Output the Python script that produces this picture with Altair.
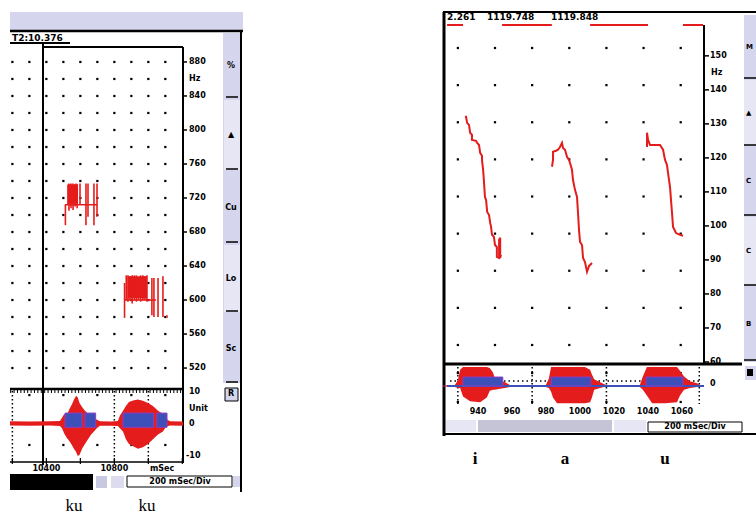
import altair as alt
import pandas as pd

# ---------------------------------------------------------------- data
# LEFT PANEL  ("ku ku"): time in ms, pitch in Hz, amplitude in units
L_HZ_TICKS = [880, 840, 800, 760, 720, 680, 640, 600, 560, 520]
L_GRID_T = [10200, 10300, 10400, 10500, 10600, 10700, 10800, 10900, 11000, 11100]
L_GRID_HZ = [880, 860, 840, 820, 800, 780, 760, 740, 720, 700,
             680, 660, 640, 620, 600, 580, 560, 540, 520]
L_TIME_LABELS = [10400, 10800]

# pitch track segments of the first "ku" (time, low Hz, high Hz)
K1_T = [10512, 10527, 10533, 10539, 10545, 10551, 10557, 10563, 10569, 10575,
        10581, 10598, 10633, 10645, 10680, 10698]
K1_LO = [688, 712, 705, 712, 708, 712, 706, 712, 710, 712, 708, 712, 688, 698, 688, 698]
K1_HI = [712, 736, 737, 736, 737, 735, 737, 736, 736, 737, 736, 737, 737, 737, 737, 737]
# pitch track segments of the second "ku"
K2_T = [10860, 10870, 10880, 10892, 10905, 10918, 10930, 10942, 10955, 10968,
        10980, 10992, 11021, 11033, 11057, 11086, 11110]
K2_LO = [579, 600, 598, 600, 596, 600, 598, 600, 598, 600, 600, 598, 582, 580, 580, 580, 579]
K2_HI = [620, 629, 629, 628, 629, 629, 629, 627, 629, 629, 628, 629, 626, 626, 626, 628, 582]
# solid blocks and base lines of the two pitch tracks (t1, t2, Hz1, Hz2)
K_BLOCK_T1 = [10527, 10880]
K_BLOCK_T2 = [10586, 10992]
K_BLOCK_LO = [714, 602]
K_BLOCK_HI = [736, 628]
K_BASE_T1 = [10509, 10858]
K_BASE_T2 = [10698, 11045]
K_BASE_HZ = [712, 600]

# waveform envelope (left)
LW_T = [10186, 10300, 10420, 10480, 10492, 10505, 10520, 10535, 10550, 10562,
        10575, 10585, 10595, 10610, 10627, 10645, 10662, 10680, 10698, 10715,
        10780, 10821, 10833, 10851, 10868, 10886, 10910, 10939, 10968, 10998,
        11027, 11057, 11086, 11104, 11127, 11204]
LW_HI = [0.7, 0.6, 0.7, 0.8, 1.8, 3.0, 2.5, 4.5, 6.0, 7.5,
         8.8, 8.2, 6.5, 5.2, 4.0, 3.2, 2.4, 1.8, 1.2, 0.7,
         0.6, 0.8, 2.5, 4.0, 5.5, 6.8, 7.3, 7.6, 7.2, 6.5,
         5.5, 4.0, 3.0, 1.5, 0.7, 0.6]
LW_LO = [-0.6, -0.7, -0.6, -0.8, -1.5, -3.2, -4.5, -5.5, -6.8, -8.0,
         -9.0, -10.3, -10.0, -8.0, -6.5, -5.0, -3.6, -2.5, -1.4, -0.7,
         -0.7, -0.8, -1.5, -2.5, -5.0, -6.5, -7.2, -8.0, -7.5, -6.5,
         -5.0, -3.5, -2.5, -1.0, -0.6, -0.7]
LB_T1 = [10510, 10627, 10851, 11050]
LB_T2 = [10610, 10690, 11030, 11110]
LB_HI = [3.3, 3.3, 3.3, 3.3]
LB_LO = [-1.2, -1.2, -1.2, -1.2]

# RIGHT PANEL ("i a u"): time in ms, pitch in Hz
R_HZ_TICKS = [150, 140, 130, 120, 110, 100, 90, 80, 70, 60]
R_GRID_T = [0, 100, 200, 300, 400, 500, 600]
R_GRID_ROWS = [0, 1, 2, 3, 4, 5, 6, 7, 8]
R_RULER = [940, 960, 980, 1000, 1020, 1040, 1060]

I_T = [19, 22, 25, 30, 33, 38, 38, 49, 52, 57, 60, 65, 65, 68, 70, 73, 76, 79, 84, 87,
       89, 92, 97, 100, 105, 105, 111, 111, 114, 114, 116]
I_HZ = [132.1, 132.1, 130.3, 129.7, 127.4, 126.8, 125.3, 125.0, 124.4, 123.8, 121.5,
        120.6, 119.4, 116.5, 113.5, 108.5, 107.6, 104.1, 103.2, 100.9, 100.0, 97.4,
        96.8, 94.4, 93.8, 90.9, 90.6, 95.9, 96.5, 90.6, 91.5]
A_T = [253.5, 256.2, 256.2, 264.3, 269.6, 275.0, 280.4, 283.1, 288.5, 293.9, 299.3, 302.0,
       307.3, 310.0, 315.4, 320.8, 323.5, 326.2, 328.9, 334.3, 337.0, 342.3, 347.7,
       353.1, 361.2]
A_HZ = [117.4, 119.4, 121.8, 122.1, 122.4, 123.2, 124.4, 122.9, 122.4, 120.3, 119.4,
        118.5, 116.5, 113.5, 110.6, 108.5, 103.8, 98.8, 95.3, 94.4, 90.6, 89.4, 86.5,
        88.2, 89.1]
U_T = [509.3, 509.3, 512.0, 517.4, 530.9, 544.3, 552.4, 557.8, 563.1, 565.8, 571.2,
       573.9, 576.6, 579.3, 587.4, 598.1, 606.2]
U_HZ = [123.2, 127.4, 125.3, 123.8, 123.8, 123.8, 122.4, 119.4, 117.9, 115.6, 111.5,
        107.6, 103.8, 99.7, 97.9, 97.4, 97.1]

# voicing markers on top of the right panel (t1, t2)
V_T1 = [-29, 119, 356, 606]
V_T2 = [14, 253, 512, 660]

# waveform envelope (right), amplitude normalised
RW_T = [-40, -8, 0, 6, 14, 33, 60, 78, 86, 95, 100, 113, 127, 140,
        237, 245, 251, 256, 267, 302, 342, 356, 361, 367, 383, 393, 399,
        490, 498, 509, 523, 558, 590, 598, 609, 625, 644, 652, 660]
RW_HI = [0.03, 0.05, 0.3, 0.85, 1.0, 1.0, 1.0, 1.0, 0.95, 0.7, 0.35, 0.3, 0.2, 0.05,
         0.05, 0.4, 1.0, 1.0, 1.0, 1.0, 1.0, 0.85, 0.6, 0.35, 0.2, 0.1, 0.05,
         0.05, 0.5, 1.0, 1.0, 1.0, 1.0, 0.8, 0.5, 0.25, 0.15, 0.05, 0.03]
RW_LO = [-0.03, -0.05, -0.1, -0.1, -0.55, -0.8, -0.85, -0.6, -0.25, -0.2, -0.2, -0.15, -0.1, -0.05,
         -0.05, -0.1, -0.3, -0.6, -0.9, -0.9, -0.9, -0.85, -0.6, -0.2, -0.1, -0.05, -0.05,
         -0.05, -0.2, -0.5, -0.9, -0.9, -0.85, -0.5, -0.2, -0.1, -0.05, -0.05, -0.03]
RB_T1 = [14, 251, 507]
RB_T2 = [121, 358, 606]

# ---------------------------------------------------------------- style
RED = "#e51c1c"
BLUE = "#3d4fb8"
LAV = "#d5d5ed"
LAV2 = "#e6e6f4"
FONT = "DejaVu Sans"
SERIF = "Liberation Serif"
ONE = pd.DataFrame({"k": [0]})


def sc(domain, rng):
    return alt.Scale(domain=domain, range=rng, nice=False, zero=False)


LX = sc([10186, 11204], [10, 183])
LY = sc([502.4, 897.6], [383, 47])
LA = sc([-12.5, 10.6], [463, 390])
RX = sc([-40, 660], [443, 703])
RY = sc([59.7, 157.6], [363, 30])
RG = sc([0, 8], [345, 48])
RA = sc([-1.05, 1.05], [406, 366])
RR = sc([919.4, 1072.4], [443, 703])


def X(f, s):
    return alt.X(f, type="quantitative", scale=s, axis=None)


def Y(f, s):
    return alt.Y(f, type="quantitative", scale=s, axis=None)


def rect(x1, y1, x2, y2, fill, stroke=None, sw=0):
    kw = dict(fill=fill)
    if stroke:
        kw.update(stroke=stroke, strokeWidth=sw)
    return alt.Chart(ONE).mark_rect(**kw).encode(
        x=alt.value(x1), x2=alt.value(x2), y=alt.value(y1), y2=alt.value(y2))


def hline(x1, x2, y, w=1.5, color="black", dash=None):
    kw = dict(color=color, strokeWidth=w)
    if dash:
        kw["strokeDash"] = dash
    return alt.Chart(ONE).mark_rule(**kw).encode(
        x=alt.value(x1), x2=alt.value(x2), y=alt.value(y))


def vline(x, y1, y2, w=1.5, color="black", dash=None):
    kw = dict(color=color, strokeWidth=w)
    if dash:
        kw["strokeDash"] = dash
    return alt.Chart(ONE).mark_rule(**kw).encode(
        x=alt.value(x), y=alt.value(y1), y2=alt.value(y2))


def txt(x, y, s, size=8, bold=True, align="left", font=FONT, color="black"):
    return alt.Chart(ONE).mark_text(
        text=s, fontSize=size, fontWeight="bold" if bold else "normal",
        align=align, baseline="middle", font=font, color=color).encode(
        x=alt.value(x), y=alt.value(y))


layers = []

# ================================================================ LEFT PANEL
layers += [
    rect(10, 12, 243, 30, LAV),
    hline(10, 243, 31, 2.5),
    vline(241, 31, 492, 2),
    txt(12, 38, "T2:10.376", 9),
    hline(10, 70, 43, 2),
    hline(43, 183, 47, 2),
    rect(223, 33, 240, 383, LAV),
]
# side buttons
for y1, y2, lab in [(33, 98, "%"), (100, 170, "▲"), (172, 243, "Cu"), (245, 312, "Lo"), (314, 383, "Sc")]:
    layers += [rect(224, y1, 240, y2, LAV2 if lab in ("▲", "Lo") else LAV),
               hline(226, 238, y2 - 1, 1.5),
               txt(231, (y1 + y2) / 2, lab, 8, align="center")]

# grid dots
ldots = pd.DataFrame([(t, h) for t in L_GRID_T for h in L_GRID_HZ], columns=["t", "hz"])
layers.append(alt.Chart(ldots).mark_square(size=5, color="black", opacity=1).encode(
    x=X("t", LX), y=Y("hz", LY)))

# pitch tracks
kb = pd.DataFrame({"t1": K_BLOCK_T1, "t2": K_BLOCK_T2, "lo": K_BLOCK_LO, "hi": K_BLOCK_HI})
layers.append(alt.Chart(kb).mark_rect(color=RED).encode(
    x=X("t1", LX), x2="t2", y=Y("lo", LY), y2="hi"))
kbase = pd.DataFrame({"t1": K_BASE_T1, "t2": K_BASE_T2, "hz": K_BASE_HZ})
layers.append(alt.Chart(kbase).mark_rule(color=RED, strokeWidth=1.6).encode(
    x=X("t1", LX), x2="t2", y=Y("hz", LY)))
kseg = pd.concat([pd.DataFrame({"t": K1_T, "lo": K1_LO, "hi": K1_HI}),
                  pd.DataFrame({"t": K2_T, "lo": K2_LO, "hi": K2_HI})])
layers.append(alt.Chart(kseg).mark_rule(color=RED, strokeWidth=1.6).encode(
    x=X("t", LX), y=Y("lo", LY), y2="hi"))

# right axis (Hz)
lt = pd.DataFrame({"hz": L_HZ_TICKS, "lab": [str(v) for v in L_HZ_TICKS]})
layers.append(alt.Chart(lt).mark_rule(color="black", strokeWidth=1.5).encode(
    x=alt.value(183), x2=alt.value(187), y=Y("hz", LY)))
layers.append(alt.Chart(lt).mark_text(font=FONT, fontSize=8, fontWeight="bold", align="left",
                                      baseline="middle").encode(
    x=alt.value(189), y=Y("hz", LY), text="lab:N"))
layers.append(txt(189, 79, "Hz", 8))

# frame lines of plot
layers += [vline(43, 43, 465, 2), vline(183, 47, 463, 2)]

# waveform box
layers += [hline(10, 183, 389, 2.5), hline(10, 183, 462, 1.5)]
rt = pd.DataFrame({"t": list(range(10190, 11204, 20))})
layers.append(alt.Chart(rt).mark_rule(color="black", strokeWidth=1).encode(
    x=X("t", LX), y=alt.value(389), y2=alt.value(393)))
bt = pd.DataFrame({"t": [10200, 10400, 10600, 10800, 11000, 11200]})
layers.append(alt.Chart(bt).mark_rule(color="black", strokeWidth=1.2).encode(
    x=X("t", LX), y=alt.value(458), y2=alt.value(464)))
dv = pd.DataFrame({"t": [10200, 10800, 11000]})
layers.append(alt.Chart(dv).mark_rule(color="black", strokeWidth=1.5, strokeDash=[1.5, 2.5]).encode(
    x=X("t", LX), y=alt.value(391), y2=alt.value(462)))
wd = pd.DataFrame([(t, a) for t in [10300, 10500, 10700, 10900, 11100] for a in [9, -6.8]],
                  columns=["t", "a"])
layers.append(alt.Chart(wd).mark_square(size=5, color="black", opacity=1).encode(
    x=X("t", LX), y=Y("a", LA)))
lw = pd.DataFrame({"t": LW_T, "hi": LW_HI, "lo": LW_LO})
layers.append(alt.Chart(lw).mark_area(color=RED, opacity=1).encode(
    x=X("t", LX), y=Y("hi", LA), y2="lo"))
lb = pd.DataFrame({"t1": LB_T1, "t2": LB_T2, "hi": LB_HI, "lo": LB_LO})
layers.append(alt.Chart(lb).mark_rect(fill=BLUE, stroke="#8a3fc4", strokeWidth=1).encode(
    x=X("t1", LX), x2="t2", y=Y("hi", LA), y2="lo"))
layers += [
    txt(189, 392, "10", 8), txt(189, 409, "Unit", 8), txt(189, 424, "0", 8), txt(186, 456, "-10", 8),
    rect(225, 388, 238, 401, LAV, "black", 1), txt(231, 394, "R", 8, align="center"),
]
# time labels
tl = pd.DataFrame({"t": L_TIME_LABELS, "lab": [str(v) for v in L_TIME_LABELS]})
layers.append(alt.Chart(tl).mark_text(font=FONT, fontSize=8, fontWeight="bold", align="center",
                                      baseline="middle").encode(
    x=X("t", LX), y=alt.value(469), text="lab:N"))
layers += [
    txt(150, 469, "mSec", 8),
    rect(10, 474, 93, 490, "black"),
    rect(96, 476, 107, 488, "#c8c8e0"),
    rect(111, 476, 124, 488, "#dcdcee"),
    rect(127, 476, 232, 487, "white", "black", 1),
    txt(180, 482, "200 mSec/Div", 8, align="center"),
    rect(233, 476, 240, 487, LAV),
    txt(74, 506, "ku", 17, bold=False, align="center", font=SERIF),
    txt(147, 506, "ku", 17, bold=False, align="center", font=SERIF),
]

# ================================================================ RIGHT PANEL
layers += [
    hline(443, 756, 12, 2),
    vline(444, 12, 436, 3),
    txt(447, 17, "2.261", 9),
    txt(487, 17, "1119.748", 9),
    txt(551, 17, "1119.848", 9),
    vline(704, 25, 365, 2),
    rect(744, 15, 756, 362, LAV),
]
for y1, y2, lab in [(15, 78, "M"), (80, 145, "▲"), (147, 215, "C"), (217, 285, "C"), (287, 360, "B")]:
    layers += [rect(744, y1, 756, y2, LAV2 if lab in ("▲",) or y1 == 217 else LAV),
               hline(744, 756, y2, 1.5),
               txt(746, (y1 + y2) / 2, lab, 7)]

vm = pd.DataFrame({"t1": V_T1, "t2": V_T2})
layers.append(alt.Chart(vm).mark_rule(color=RED, strokeWidth=2).encode(
    x=X("t1", RX), x2="t2", y=alt.value(25)))

rdots = pd.DataFrame([(t, r) for t in R_GRID_T for r in R_GRID_ROWS], columns=["t", "r"])
layers.append(alt.Chart(rdots).mark_square(size=5, color="black", opacity=1).encode(
    x=X("t", RX), y=Y("r", RG)))

curves = pd.concat([
    pd.DataFrame({"c": "i", "t": I_T, "hz": I_HZ, "o": range(len(I_T))}),
    pd.DataFrame({"c": "a", "t": A_T, "hz": A_HZ, "o": range(len(A_T))}),
    pd.DataFrame({"c": "u", "t": U_T, "hz": U_HZ, "o": range(len(U_T))}),
])
layers.append(alt.Chart(curves).mark_line(color=RED, strokeWidth=2).encode(
    x=X("t", RX), y=Y("hz", RY), detail="c:N", order="o:Q"))

rt2 = pd.DataFrame({"hz": R_HZ_TICKS, "lab": [str(v) for v in R_HZ_TICKS]})
layers.append(alt.Chart(rt2).mark_rule(color="black", strokeWidth=1.5).encode(
    x=alt.value(704), x2=alt.value(709), y=Y("hz", RY)))
layers.append(alt.Chart(rt2).mark_text(font=FONT, fontSize=8, fontWeight="bold", align="left",
                                       baseline="middle").encode(
    x=alt.value(710), y=Y("hz", RY), text="lab:N"))
layers.append(txt(711, 73, "Hz", 8))

# right waveform
layers += [hline(443, 742, 364, 3)]
rdv = pd.DataFrame({"t": [0, 200, 400, 650]})
layers.append(alt.Chart(rdv).mark_rule(color="black", strokeWidth=1.5, strokeDash=[1.5, 2.5]).encode(
    x=X("t", RX), y=alt.value(367), y2=alt.value(404)))
layers.append(alt.Chart(ONE).mark_rule(color="black", strokeWidth=1.5, strokeDash=[1.5, 3]).encode(
    x=alt.value(450), x2=alt.value(700), y=alt.value(381)))
rwd = pd.DataFrame([(t, a) for t in [0, 200, 400, 600] for a in [0.68, -0.84]], columns=["t", "a"])
layers.append(alt.Chart(rwd).mark_square(size=5, color="black", opacity=1).encode(
    x=X("t", RX), y=Y("a", RA)))
rw = pd.DataFrame({"t": RW_T, "hi": RW_HI, "lo": RW_LO})
layers.append(alt.Chart(rw).mark_area(color=RED, opacity=1).encode(
    x=X("t", RX), y=Y("hi", RA), y2="lo"))
layers.append(alt.Chart(ONE).mark_rule(color=BLUE, strokeWidth=2).encode(
    x=alt.value(447), x2=alt.value(704), y=alt.value(386)))
rb = pd.DataFrame({"t1": RB_T1, "t2": RB_T2, "hi": [0.47] * 3, "lo": [0.0] * 3})
layers.append(alt.Chart(rb).mark_rect(fill=BLUE, stroke="#8a3fc4", strokeWidth=1).encode(
    x=X("t1", RX), x2="t2", y=Y("hi", RA), y2="lo"))
layers += [txt(710, 384, "0", 8), rect(745, 366, 756, 380, LAV), rect(747, 369, 753, 376, "black")]

rl = pd.DataFrame({"v": R_RULER, "lab": [str(v) for v in R_RULER]})
layers.append(alt.Chart(rl).mark_text(font=FONT, fontSize=8, fontWeight="bold", align="center",
                                      baseline="middle").encode(
    x=X("v", RR), y=alt.value(412), text="lab:N"))

layers += [
    rect(446, 420, 476, 432, LAV2),
    rect(478, 420, 612, 432, "#c4c4d6"),
    rect(614, 420, 646, 432, LAV2),
    rect(648, 422, 742, 432, "white", "black", 1),
    txt(695, 427, "200 mSec/Div", 8, align="center"),
    hline(443, 756, 434, 2),
    txt(475, 459, "i", 17, bold=True, align="center", font=SERIF),
    txt(565, 459, "a", 17, bold=True, align="center", font=SERIF),
    txt(665, 459, "u", 17, bold=True, align="center", font=SERIF),
]

chart = alt.layer(*layers).resolve_scale(x="independent", y="independent").properties(
    width=756, height=517, autosize=alt.AutoSizeParams(type="none"), padding=0,
    background="white",
).configure_view(stroke=None)

chart.save("out.html", embed_options={"renderer": "svg", "actions": False})
